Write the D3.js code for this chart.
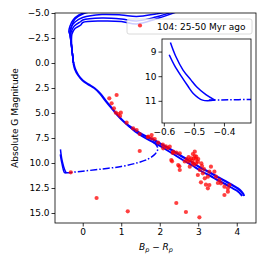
<!DOCTYPE html>
<html>
<head>
<meta charset="utf-8">
<script src="https://cdn.jsdelivr.net/npm/d3@7"></script>
<style>
  body { margin: 0; background: #fff; }
  svg { display: block; font-family: "DejaVu Sans", sans-serif; }
</style>
</head>
<body>
<div id="chart"></div>
<script>
// lower main sequence, shared by every isochrone (Bp-Rp, abs G)
const msCol = [-0.24, -0.2, -0.12, 0.0, 0.15, 0.3, 0.45, 0.6, 0.75, 0.9, 1.05, 1.2, 1.4, 1.6, 1.85, 2.1, 2.35, 2.6, 2.85, 3.05, 3.3, 3.5, 3.7, 3.9, 4.03, 4.12, 4.17, 4.19]
const msMag = [0.0, 0.6, 1.2, 1.75, 2.15, 2.5, 3.05, 3.8, 4.5, 5.2, 5.8, 6.3, 6.8, 7.25, 7.7, 8.25, 8.8, 9.4, 9.95, 10.45, 10.95, 11.4, 11.8, 12.25, 12.55, 12.85, 13.1, 13.3]
// second trace along the lower edge of the red main sequence
const ms2Col = [1.2, 1.4, 1.6, 1.85, 2.1, 2.35, 2.6, 2.85, 3.05, 3.3, 3.5, 3.7, 3.9, 4.03, 4.1, 4.14]
const ms2Mag = [6.3, 6.95, 7.45, 7.95, 8.5, 9.1, 9.7, 10.25, 10.75, 11.25, 11.7, 12.1, 12.55, 12.85, 13.1, 13.3]

// upper branches (turn-off and giants), one per isochrone
const upperCol = [
  [-0.24, -0.27, -0.3, -0.33, -0.3, -0.2, 0.0, 0.3],
  [-0.24, -0.27, -0.3, -0.33, -0.36, -0.33, -0.25, -0.1, 0.2],
  [-0.24, -0.27, -0.3, -0.32, -0.33, -0.3, -0.2, 0.0, 0.5, 1.0, 1.4, 1.9, 2.3],
  [-0.24, -0.27, -0.3, -0.31, -0.3, -0.22, -0.05, 0.0, 0.5, 1.0, 1.4, 1.9, 2.4],
  [-0.24, -0.27, -0.29, -0.28, -0.2, -0.05, 0.0, 0.5, 1.0, 1.4, 1.9, 2.5]
]
const upperMag = [
  [0.0, -1.0, -2.0, -2.9, -3.5, -4.4, -4.9, -5.2],
  [0.0, -1.0, -2.0, -2.8, -3.13, -3.7, -4.3, -4.8, -5.2],
  [0.0, -1.0, -2.0, -2.8, -3.15, -3.6, -4.1, -4.55, -4.85, -4.8, -4.65, -4.9, -5.2],
  [0.0, -1.0, -2.0, -2.8, -3.1, -3.7, -4.15, -4.3, -4.5, -4.4, -4.2, -4.6, -5.2],
  [0.0, -1.0, -2.0, -2.9, -3.45, -3.8, -4.05, -4.2, -4.15, -3.9, -4.4, -5.2]
]

// white dwarf cooling tracks
const wdCol = [
  [-0.578, -0.56, -0.536, -0.51, -0.491, -0.46, -0.43],
  [-0.582, -0.565, -0.541, -0.52, -0.502, -0.471, -0.43]
]
const wdMag = [
  [8.63, 9.2, 9.75, 10.15, 10.43, 10.75, 10.97],
  [9.13, 9.55, 10.02, 10.4, 10.7, 10.97, 10.97]
]
const dashCol = [-0.45, -0.3, 0.0, 0.5, 1.0, 1.4, 1.7, 1.88, 1.95, 1.9, 1.8]
const dashMag = [10.97, 10.94, 10.82, 10.6, 10.35, 10.0, 9.6, 9.1, 8.6, 8.15, 7.85]

// observed stars
const starCol = [-0.31, 0.36, 1.17, 2.43, 2.68, 3.03,
  0.69, 0.88, 0.75, 0.81, 0.86, 0.92, 0.99, 0.97, 1.14, 1.31, 1.4, 1.48, 1.7, 1.79, 1.96,
  1.48, 1.79, 2.09, 2.26, 2.35, 2.43, 2.52, 2.3, 2.48, 2.52, 2.74, 2.82, 2.91, 2.95, 2.86, 2.78,
  2.99, 3.08, 3.04, 2.99, 3.12, 3.17, 3.25, 3.29, 3.33, 3.42, 3.46, 3.55, 3.29, 3.25, 3.59, 3.68,
  3.77, 3.81, 3.68, 3.77, 2.86, 2.91, 2.78, 2.08, 2.16, 1.69, 1.87, 2.21, 2.34, 2.32, 2.51, 2.94,
  2.9, 3.07, 3.2, 3.51, 2.7, 2.75, 2.85, 2.95, 3.0, 2.88, 3.1, 3.15, 2.65]
const starMag = [10.93, 13.5, 14.83, 14.0, 14.9, 15.43,
  3.53, 3.2, 4.03, 4.53, 4.97, 5.1, 4.97, 5.3, 5.97, 6.53, 6.7, 7.1, 7.37, 7.53, 7.97,
  8.8, 7.2, 8.53, 8.37, 8.87, 8.97, 9.03, 9.7, 10.2, 10.7, 9.87, 9.53, 8.87, 9.37, 10.03, 10.37,
  9.87, 10.03, 10.7, 11.2, 11.03, 11.53, 11.37, 10.87, 10.37, 10.87, 11.37, 11.7, 12.2, 12.53, 12.03, 12.37,
  12.53, 12.2, 13.2, 12.87, 9.1, 9.3, 9.7, 8.17, 8.33, 7.4, 7.6, 8.5, 9.0, 9.83, 10.33, 9.6,
  10.17, 11.93, 12.17, 12.0, 9.6, 9.4, 9.8, 10.0, 9.6, 9.55, 10.3, 10.6, 9.85]

const legendLabel = "104: 25-50 Myr ago"
const xTicks = [0, 1, 2, 3, 4]
const yTicks = [-5, -2.5, 0, 2.5, 5, 7.5, 10, 12.5, 15]
const insetXTicks = [-0.6, -0.5, -0.4]
const insetYTicks = [9, 10, 11]

const W = 266, H = 266
const svg = d3.select("#chart").append("svg")
    .attr("width", W).attr("height", H)

const zip = (cs, ms) => cs.map((c, i) => [c, ms[i]])

const x = d3.scaleLinear().domain([-0.72, 4.5]).range([55, 256])
const y = d3.scaleLinear().domain([-5, 16]).range([13, 223])

svg.append("clipPath").attr("id", "clipMain")
   .append("rect").attr("x", 55).attr("y", 13).attr("width", 201).attr("height", 210)

const main = svg.append("g").attr("clip-path", "url(#clipMain)")

const line = d3.line().x(d => x(d[0])).y(d => y(d[1])).curve(d3.curveMonotoneY)
const lineX = d3.line().x(d => x(d[0])).y(d => y(d[1])).curve(d3.curveCatmullRom)

const blue = "#0000ff"

// isochrones
upperCol.forEach((cs, i) => {
    main.append("path").attr("d", lineX(zip(cs, upperMag[i])))
        .attr("fill", "none").attr("stroke", blue).attr("stroke-width", 1.5)
})
main.append("path").attr("d", lineX(zip(msCol, msMag)))
    .attr("fill", "none").attr("stroke", blue).attr("stroke-width", 2.2)
main.append("path").attr("d", lineX(zip(ms2Col, ms2Mag)))
    .attr("fill", "none").attr("stroke", blue).attr("stroke-width", 2)
wdCol.forEach((cs, i) => {
    main.append("path").attr("d", lineX(zip(cs, wdMag[i])))
        .attr("fill", "none").attr("stroke", blue).attr("stroke-width", 1.5)
})
main.append("path").attr("d", lineX(zip(dashCol, dashMag)))
    .attr("fill", "none").attr("stroke", blue).attr("stroke-width", 1.5)
    .attr("stroke-dasharray", "7,2,1.5,2")

// stars
main.selectAll("circle.star").data(zip(starCol, starMag)).join("circle")
    .attr("class", "star")
    .attr("cx", d => x(d[0])).attr("cy", d => y(d[1])).attr("r", 2.1)
    .attr("fill", "#ff0000").attr("fill-opacity", 0.75)

// frame + axes
svg.append("rect").attr("x", 55).attr("y", 13).attr("width", 201).attr("height", 210)
   .attr("fill", "none").attr("stroke", "#000").attr("stroke-width", 0.8)

const xAxis = svg.append("g").attr("transform", "translate(0,223)")
    .call(d3.axisBottom(x).tickValues(xTicks).tickSize(3.5).tickPadding(2).tickFormat(d3.format("d")))
const yAxis = svg.append("g").attr("transform", "translate(55,0)")
    .call(d3.axisLeft(y).tickValues(yTicks).tickSize(3.5).tickPadding(2).tickFormat(d3.format(".1f")))
;[xAxis, yAxis].forEach(a => {
    a.select(".domain").remove()
    a.selectAll("text").attr("font-size", 9).attr("fill", "#000").attr("font-family", "DejaVu Sans")
    a.selectAll("line").attr("stroke-width", 0.8)
})

svg.append("text").attr("transform", "translate(18,118) rotate(-90)")
   .attr("text-anchor", "middle").attr("font-size", 9).text("Absolute G Magnitude")

const xl = svg.append("text").attr("x", 156).attr("y", 250).attr("text-anchor", "middle").attr("font-size", 9)
xl.append("tspan").attr("font-style", "italic").text("B")
xl.append("tspan").attr("font-style", "italic").attr("font-size", 6.5).attr("dy", 2).text("p")
xl.append("tspan").attr("dy", -2).text(" \u2212 ")
xl.append("tspan").attr("font-style", "italic").text("R")
xl.append("tspan").attr("font-style", "italic").attr("font-size", 6.5).attr("dy", 2).text("p")

// legend
const lg = svg.append("g")
lg.append("rect").attr("x", 127).attr("y", 19).attr("width", 125).attr("height", 15).attr("rx", 2)
  .attr("fill", "#fff").attr("fill-opacity", 0.8).attr("stroke", "#d0d0d0").attr("stroke-width", 0.8)
lg.append("circle").attr("cx", 140).attr("cy", 25.5).attr("r", 2.1).attr("fill", "#ff0000").attr("fill-opacity", 0.75)
lg.append("text").attr("x", 157).attr("y", 29.5).attr("font-size", 9).text(legendLabel)

// inset zoom on the white dwarf turn
const xi = d3.scaleLinear().domain([-0.606, -0.31]).range([162, 251])
const yi = d3.scaleLinear().domain([8.49, 11.9]).range([39, 123])
svg.append("rect").attr("x", 162).attr("y", 39).attr("width", 89).attr("height", 84).attr("fill", "#fff")
svg.append("clipPath").attr("id", "clipInset")
   .append("rect").attr("x", 162).attr("y", 39).attr("width", 89).attr("height", 84)
const inset = svg.append("g").attr("clip-path", "url(#clipInset)")
const lineI = d3.line().x(d => xi(d[0])).y(d => yi(d[1])).curve(d3.curveCatmullRom)
wdCol.forEach((cs, i) => {
    inset.append("path").attr("d", lineI(zip(cs, wdMag[i])))
        .attr("fill", "none").attr("stroke", blue).attr("stroke-width", 1.5)
})
inset.append("path").attr("d", lineI(zip(dashCol, dashMag)))
    .attr("fill", "none").attr("stroke", blue).attr("stroke-width", 1.5)
    .attr("stroke-dasharray", "7,2,1.5,2")
svg.append("rect").attr("x", 162).attr("y", 39).attr("width", 89).attr("height", 84)
   .attr("fill", "none").attr("stroke", "#000").attr("stroke-width", 0.8)
const ixAxis = svg.append("g").attr("transform", "translate(0,123)")
    .call(d3.axisBottom(xi).tickValues(insetXTicks).tickSize(3.5).tickPadding(2).tickFormat(d3.format(".1f")))
const iyAxis = svg.append("g").attr("transform", "translate(162,0)")
    .call(d3.axisLeft(yi).tickValues(insetYTicks).tickSize(3.5).tickPadding(2).tickFormat(d3.format("d")))
;[ixAxis, iyAxis].forEach(a => {
    a.select(".domain").remove()
    a.selectAll("text").attr("font-size", 9).attr("fill", "#000").attr("font-family", "DejaVu Sans")
    a.selectAll("line").attr("stroke-width", 0.8)
})
</script>
</body>
</html>
